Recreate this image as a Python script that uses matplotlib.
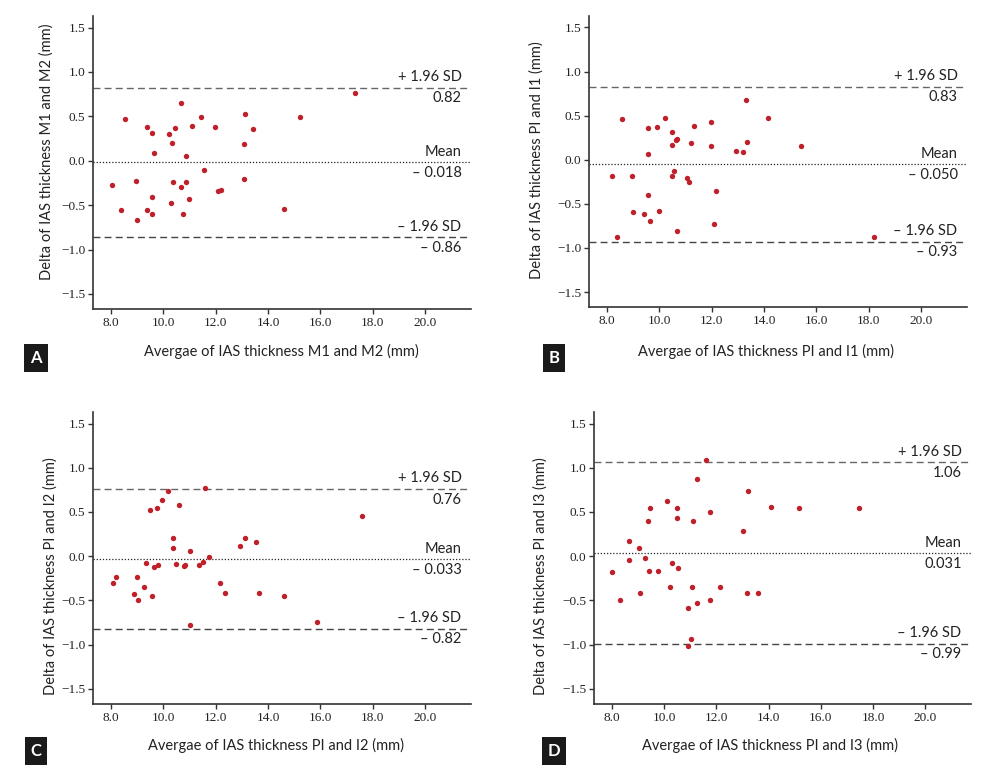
import matplotlib
matplotlib.use("Agg")
import matplotlib.pyplot as plt

# ---------------- data ----------------
a_x = [8.05, 8.37, 8.53, 8.98, 9.01, 9.40, 9.38, 9.56, 9.57, 9.59, 9.64, 10.22, 10.30, 10.32,
       10.37, 10.45, 10.68, 10.69, 10.77, 10.87, 10.88, 10.98, 11.11, 11.45, 11.55, 11.96,
       12.11, 12.19, 13.07, 13.10, 13.14, 13.43, 14.63, 15.21, 17.34]
a_y = [-0.27, -0.56, 0.47, -0.23, -0.67, 0.38, -0.55, 0.31, -0.41, -0.60, 0.09, 0.30, -0.48, 0.20,
       -0.24, 0.37, 0.65, -0.30, -0.60, -0.24, 0.05, -0.43, 0.39, 0.49, -0.11, 0.38,
       -0.34, -0.33, -0.21, 0.19, 0.53, 0.36, -0.54, 0.49, 0.76]

b_x = [8.21, 8.38, 8.58, 8.97, 9.00, 9.42, 9.56, 9.58, 9.58, 9.65, 9.90, 10.01, 10.21, 10.47,
       10.50, 10.50, 10.56, 10.64, 10.67, 10.69, 11.05, 11.15, 11.23, 11.32, 11.96, 11.97,
       12.09, 12.15, 12.95, 13.19, 13.31, 13.35, 14.15, 15.40, 18.19]
b_y = [-0.18, -0.88, 0.46, -0.19, -0.59, -0.62, 0.36, 0.07, -0.40, -0.70, 0.37, -0.58, 0.47, 0.17,
       0.32, -0.18, -0.13, 0.22, 0.24, -0.81, -0.21, -0.25, 0.19, 0.38, 0.43, 0.16,
       -0.73, -0.36, 0.10, 0.09, 0.68, 0.20, 0.47, 0.16, -0.88]

c_x = [8.09, 8.18, 8.88, 8.99, 9.03, 9.26, 9.34, 9.48, 9.57, 9.65, 9.78, 9.79, 9.95, 10.19,
       10.36, 10.38, 10.47, 10.61, 10.80, 10.84, 11.01, 11.03, 11.38, 11.53, 11.58, 11.75,
       12.18, 12.37, 12.95, 13.11, 13.56, 13.66, 14.62, 15.86, 17.57]
c_y = [-0.30, -0.23, -0.43, -0.24, -0.49, -0.35, -0.08, 0.52, -0.455, -0.12, 0.55, -0.10, 0.64, 0.74,
       0.09, 0.21, -0.09, 0.58, -0.11, -0.10, 0.06, -0.78, -0.10, -0.07, 0.77, -0.01,
       -0.30, -0.41, 0.12, 0.21, 0.16, -0.41, -0.45, -0.74, 0.46]

d_x = [8.00, 8.32, 8.66, 8.67, 9.05, 9.07, 9.27, 9.37, 9.42, 9.46, 9.77, 10.11, 10.23, 10.30,
       10.48, 10.51, 10.55, 10.91, 10.92, 11.02, 11.06, 11.11, 11.26, 11.28, 11.59, 11.75,
       11.77, 12.13, 13.04, 13.18, 13.23, 13.61, 14.10, 15.17, 17.46]
d_y = [-0.18, -0.50, -0.04, 0.17, 0.09, -0.41, -0.02, 0.40, -0.17, 0.54, -0.17, 0.62, -0.35, -0.08,
       0.55, 0.43, -0.13, -1.02, -0.59, -0.94, -0.35, 0.40, 0.87, -0.53, 1.09, -0.50,
       0.50, -0.35, 0.29, -0.42, 0.74, -0.42, 0.56, 0.54, 0.55]

upper = [0.82, 0.83, 0.76, 1.06]
means = [-0.018, -0.050, -0.033, 0.031]
lower = [-0.86, -0.93, -0.82, -0.99]
upper_txt = ["0.82", "0.83", "0.76", "1.06"]
mean_txt = ["\u2013 0.018", "\u2013 0.050", "\u2013 0.033", "0.031"]
lower_txt = ["\u2013 0.86", "\u2013 0.93", "\u2013 0.82", "\u2013 0.99"]
letters = ["A", "B", "C", "D"]
xlabels = ["Avergae of IAS thickness M1 and M2 (mm)",
           "Avergae of IAS thickness PI and I1 (mm)",
           "Avergae of IAS thickness PI and I2 (mm)",
           "Avergae of IAS thickness PI and I3 (mm)"]
ylabels = ["Delta of IAS thickness M1 and M2 (mm)",
           "Delta of IAS thickness PI and I1 (mm)",
           "Delta of IAS thickness PI and I2 (mm)",
           "Delta of IAS thickness PI and I3 (mm)"]
xticks = [8.0, 10.0, 12.0, 14.0, 16.0, 18.0, 20.0]
yticks = [-1.5, -1.0, -0.5, 0.0, 0.5, 1.0, 1.5]

xs = [a_x, b_x, c_x, d_x]
ys = [a_y, b_y, c_y, d_y]

# ---------------- layout (pixels) ----------------
W, H = 999, 773
boxes = [(93, 471, 16, 309), (589, 967, 16, 307), (93, 471, 412, 704), (594, 971, 412, 704)]
xlab_pos = [(281, 351), (766, 351), (276, 745), (770, 745)]
ylab_pos = [(47, 152), (537, 160), (51, 576), (541, 576)]
letter_pos = [(36, 358), (554, 358), (36, 751), (554, 751)]

fig = plt.figure(figsize=(W / 100, H / 100), dpi=100)
label_font = ["Lato", "DejaVu Sans"]
tick_font = "Liberation Serif"
red = "#c0202a"

for i in range(4):
    l, r, t, b = boxes[i]
    ax = fig.add_axes([l / W, 1 - b / H, (r - l) / W, (b - t) / H])
    ax.scatter(xs[i], ys[i], s=15, color=red, linewidths=0, zorder=3)
    ax.set_xlim(7.32, 21.75)
    ax.set_ylim(-1.67, 1.63)
    ax.axhline(upper[i], color="#666666", lw=1.0, ls=(0, (5, 3)))
    ax.axhline(lower[i], color="#444444", lw=1.0, ls=(0, (5, 3)))
    ax.axhline(means[i], color="#222222", lw=0.9, ls=(0, (1, 1.5)))
    for s in ["top", "right"]:
        ax.spines[s].set_visible(False)
    for s in ["left", "bottom"]:
        ax.spines[s].set_color("#333333")
        ax.spines[s].set_linewidth(1.2)
    ax.set_xticks(xticks)
    ax.set_xticklabels([f"{v:.1f}" for v in xticks])
    ax.set_yticks(yticks)
    ax.set_yticklabels([f"{v:.1f}".replace("-", "\u2212") for v in yticks])
    ax.tick_params(direction="out", length=3.5, width=1.0, color="#333333",
                   labelsize=9.5, pad=2, labelcolor="#222222")
    for lab in ax.get_xticklabels() + ax.get_yticklabels():
        lab.set_fontfamily(tick_font)
    ax.patch.set_alpha(0)

    tx = 0.975
    tr = ax.get_yaxis_transform()
    kw = dict(ha="right", fontsize=10.5, family=label_font, color="#222222", transform=tr)
    ax.text(tx, upper[i] + 0.04, "+ 1.96 SD", va="bottom", **kw)
    ax.text(tx, upper[i] - 0.04, upper_txt[i], va="top", **kw)
    ax.text(tx, means[i] + 0.04, "Mean", va="bottom", **kw)
    ax.text(tx, means[i] - 0.04, mean_txt[i], va="top", **kw)
    ax.text(tx, lower[i] + 0.04, "\u2013 1.96 SD", va="bottom", **kw)
    ax.text(tx, lower[i] - 0.04, lower_txt[i], va="top", **kw)

    fx, fy = xlab_pos[i]
    fig.text(fx / W, 1 - fy / H, xlabels[i], ha="center", va="center",
             fontsize=10.5, family=label_font, color="#222222")
    gx, gy = ylab_pos[i]
    fig.text(gx / W, 1 - gy / H, ylabels[i], ha="center", va="center", rotation=90,
             fontsize=10.5, family=label_font, color="#222222")
    px, py = letter_pos[i]
    fig.text(px / W, 1 - py / H, letters[i], ha="center", va="center",
             fontsize=12, fontweight="bold", family=label_font, color="white",
             bbox=dict(boxstyle="square,pad=0.35", fc="#1a1a1a", ec="none"))

fig.savefig("out.png", dpi=100)
